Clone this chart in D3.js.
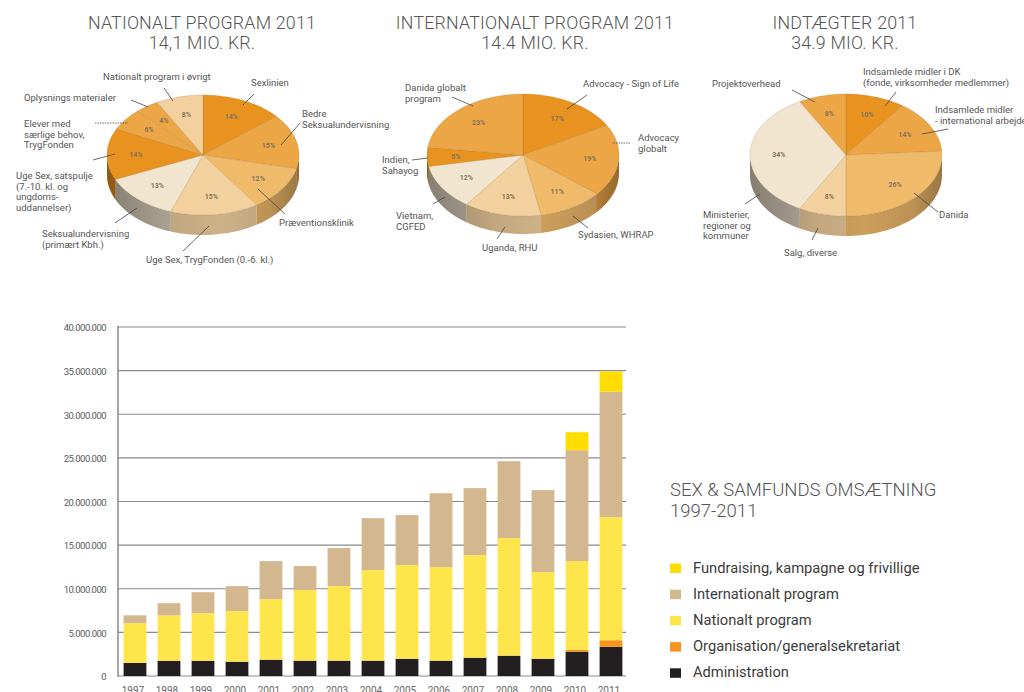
<!DOCTYPE html>
<html>
<head>
<meta charset="utf-8">
<script src="https://cdn.jsdelivr.net/npm/d3@7"></script>
<style>
  body { margin: 0; background: #fff; overflow: hidden; }
  svg { display: block; font-family: Roboto, "Open Sans", sans-serif; }
</style>
</head>
<body>
<svg id="chart" width="1024" height="692"></svg>
<script>
// ---- pie data (2011) ----
const natTitle = ["NATIONALT PROGRAM 2011", "14,1 MIO. KR."];
const natLabels = ["Sexlinien", "Bedre\nSeksualundervisning", "Præventionsklinik",
    "Uge Sex, TrygFonden (0.-6. kl.)", "Seksualundervisning\n(primært Kbh.)",
    "Uge Sex, satspulje\n(7.-10. kl. og\nungdoms-\nuddannelser)",
    "Elever med\nsærlige behov,\nTrygFonden", "Oplysnings materialer", "Nationalt program i øvrigt"];
const natValues = [14, 15, 12, 15, 13, 14, 6, 4, 8];

const intTitle = ["INTERNATIONALT PROGRAM 2011", "14.4 MIO. KR."];
const intLabels = ["Advocacy  - Sign of Life", "Advocacy\nglobalt", "Sydasien, WHRAP",
    "Uganda, RHU", "Vietnam,\nCGFED", "Indien,\nSahayog", "Danida globalt\nprogram"];
const intValues = [17, 19, 11, 13, 12, 5, 23];

const incTitle = ["INDTÆGTER 2011", "34.9 MIO. KR."];
const incLabels = ["Indsamlede midler i DK\n(fonde, virksomheder medlemmer)",
    "Indsamlede midler\n- international arbejde", "Danida", "Salg, diverse",
    "Ministerier,\nregioner og\nkommuner", "Projektoverhead"];
const incValues = [10, 14, 26, 8, 34, 8];

// ---- bar data (kr.) ----
const years = ["1997","1998","1999","2000","2001","2002","2003","2004","2005","2006","2007","2008","2009","2010","2011"];
const administration = [1.50e6, 1.75e6, 1.75e6, 1.64e6, 1.87e6, 1.76e6, 1.76e6, 1.76e6, 1.98e6, 1.76e6, 2.10e6, 2.33e6, 1.98e6, 2.79e6, 3.35e6];
const organisation   = [0, 0, 0, 0, 0, 0, 0, 0, 0, 0, 0, 0, 0, 0.19e6, 0.75e6];
const nationalt      = [4.55e6, 5.2e6, 5.45e6, 5.8e6, 6.95e6, 8.09e6, 8.54e6, 10.38e6, 10.73e6, 10.72e6, 11.75e6, 13.47e6, 9.93e6, 10.19e6, 14.1e6];
const internationalt = [0.9e6, 1.4e6, 2.4e6, 2.86e6, 4.35e6, 2.75e6, 4.36e6, 5.95e6, 5.73e6, 8.47e6, 7.68e6, 8.82e6, 9.39e6, 12.71e6, 14.4e6];
const fundraising    = [0, 0, 0, 0, 0, 0, 0, 0, 0, 0, 0, 0, 0, 2.06e6, 2.3e6];
const seriesNames = ["Administration", "Organisation/generalsekretariat", "Nationalt program",
    "Internationalt program", "Fundraising, kampagne og frivillige"];
const yTicks = [0, 5e6, 10e6, 15e6, 20e6, 25e6, 30e6, 35e6, 40e6];
const barTitle = ["SEX & SAMFUNDS OMSÆTNING", "1997-2011"];

// ---- styles ----
const shade = {dark: "#e8931f", mid: "#eca646", light: "#f0ba6b", pale: "#f2d19f", cream: "#f1e5cf"};
const natShades = ["dark", "mid", "light", "pale", "cream", "dark", "mid", "mid", "pale"];
const intShades = ["dark", "mid", "light", "pale", "cream", "dark", "mid"];
const incShades = ["dark", "mid", "light", "pale", "cream", "mid"];
const barColors = ["#231f20", "#f7941d", "#ffe54c", "#d3b78f", "#ffdd00"];

// callout layout: text pos [x, first baseline], leader [x1,y1,x2,y2], dotted?
const natCallouts = [
  {t: [251, 86], l: [254, 94, 243, 105]},
  {t: [302, 117], l: [300, 123, 281, 145]},
  {t: [279, 226], l: [285, 214, 258, 189]},
  {t: [146, 263], l: [183, 251, 209, 226]},
  {t: [42, 237], l: [115, 223, 137, 208]},
  {t: [16, 179], l: [93, 160, 115, 154]},
  {t: [24, 127], l: [95, 123, 128, 123], dot: true},
  {t: [24, 101], l: [131, 100, 148, 107]},
  {t: [103, 80], l: [164, 88, 173, 101]}
];
const intCallouts = [
  {t: [583, 87], l: [587, 95, 567, 109]},
  {t: [638, 141], l: [630, 143, 612, 143], dot: true},
  {t: [578, 238], l: [588, 228, 573, 216]},
  {t: [482, 251], l: [497, 239, 505, 227]},
  {t: [396, 219], l: [433, 204, 445, 197]},
  {t: [382, 163], l: [412, 160, 428, 158]},
  {t: [405, 91], l: [452, 97, 473, 106]}
];
const incCallouts = [
  {t: [863, 75], l: [896, 92, 885, 106]},
  {t: [935, 113], l: [948, 129, 922, 134]},
  {t: [939, 218], l: [938, 212, 914, 193]},
  {t: [784, 256], l: [812, 240, 818, 228]},
  {t: [703, 218], l: [745, 204, 760, 194]},
  {t: [712, 87], l: [792, 90, 815, 102]}
];

const svg = d3.select("#chart");
const defs = svg.append("defs");

const grad = defs.append("linearGradient").attr("id", "sideShade")
    .attr("x1", 0).attr("x2", 1).attr("y1", 0).attr("y2", 0);
[[0, 0.28], [0.35, 0.06], [0.6, 0.0], [0.85, 0.08], [1, 0.25]].forEach(s =>
  grad.append("stop").attr("offset", s[0]).attr("stop-color", "#000").attr("stop-opacity", s[1]));

defs.append("clipPath").attr("id", "clipInc")
  .append("rect").attr("x", 0).attr("y", 0).attr("width", 942).attr("height", 300);

const line = d3.line();

function drawTitle(lines, x) {
  svg.append("text")
      .attr("x", x).attr("y", 28.5)
      .attr("text-anchor", "middle")
      .attr("font-size", 17.8).attr("font-weight", 300).attr("fill", "#555")
      .attr("letter-spacing", 0.2)
      .selectAll("tspan").data(lines).join("tspan")
      .attr("x", x).attr("dy", (d, i) => i ? 20.5 : 0)
      .text(d => d);
}

function drawPie(cfg) {
  const g = svg.append("g");
  if (cfg.clip) g.attr("clip-path", "url(#" + cfg.clip + ")");
  const arcs = d3.pie().sort(null).value(d => d)(cfg.values);
  const pt = (a, k, dy) => [cfg.cx + k * cfg.rx * Math.sin(a), cfg.cy - k * cfg.ry * Math.cos(a) + dy];
  const sample = (a0, a1, dy) => d3.range(41).map(i => pt(a0 + (a1 - a0) * i / 40, 1, dy));

  // side walls (front half only)
  arcs.forEach((d, i) => {
    const s = Math.max(d.startAngle, Math.PI / 2), e = Math.min(d.endAngle, 3 * Math.PI / 2);
    if (s >= e) return;
    const c = d3.color(shade[cfg.shades[i]]).darker(cfg.shades[i] == "cream" ? 0.75 : 0.45);
    g.append("path")
        .attr("d", line(sample(s, e, 0).concat(sample(e, s, cfg.depth))) + "Z")
        .attr("fill", c);
  });
  g.append("path")
      .attr("d", line(sample(Math.PI / 2, 3 * Math.PI / 2, 0)
          .concat(sample(3 * Math.PI / 2, Math.PI / 2, cfg.depth))) + "Z")
      .attr("fill", "url(#sideShade)");

  // top faces
  arcs.forEach((d, i) => {
    g.append("path")
        .attr("d", line([[cfg.cx, cfg.cy]].concat(sample(d.startAngle, d.endAngle, 0))) + "Z")
        .attr("fill", shade[cfg.shades[i]])
        .attr("stroke", "rgba(140,95,40,0.3)")
        .attr("stroke-width", 0.6);
  });

  // percentages
  g.selectAll("text.pct").data(arcs).join("text")
      .attr("class", "pct")
      .attr("x", d => pt((d.startAngle + d.endAngle) / 2, 0.7, 0)[0])
      .attr("y", d => pt((d.startAngle + d.endAngle) / 2, 0.7, 0)[1])
      .attr("dy", "0.35em")
      .attr("text-anchor", "middle")
      .attr("font-size", 7).attr("font-weight", 700)
      .attr("fill", "#85725a")
      .text(d => d.data + "%");

  // callouts
  cfg.callouts.forEach((c, i) => {
    svg.append("line")
        .attr("x1", c.l[0]).attr("y1", c.l[1]).attr("x2", c.l[2]).attr("y2", c.l[3])
        .attr("stroke", "#444").attr("stroke-width", 0.8)
        .attr("stroke-dasharray", c.dot ? "1.5,1" : null);
    svg.append("text")
        .attr("x", c.t[0]).attr("y", c.t[1])
        .attr("font-size", 9.5).attr("fill", "#555")
        .selectAll("tspan").data(cfg.labels[i].split("\n")).join("tspan")
        .attr("x", c.t[0]).attr("dy", (d, j) => j ? 10.7 : 0)
        .text(d => d);
  });
}

drawTitle(natTitle, 202);
drawTitle(intTitle, 535);
drawTitle(incTitle, 845);

drawPie({values: natValues, labels: natLabels, shades: natShades, callouts: natCallouts,
         cx: 203, cy: 155, rx: 96, ry: 60, depth: 20});
drawPie({values: intValues, labels: intLabels, shades: intShades, callouts: intCallouts,
         cx: 523, cy: 155, rx: 96, ry: 61, depth: 18});
drawPie({values: incValues, labels: incLabels, shades: incShades, callouts: incCallouts,
         cx: 846, cy: 155, rx: 96, ry: 61, depth: 20, clip: "clipInc"});

// ---- stacked bars ----
const rows = years.map((y, i) => ({
  year: y, s0: administration[i], s1: organisation[i], s2: nationalt[i],
  s3: internationalt[i], s4: fundraising[i]
}));
const keys = ["s0", "s1", "s2", "s3", "s4"];
const stacked = d3.stack().keys(keys)(rows);

const x = d3.scaleBand().domain(years).range([118, 628]).paddingInner(0.33).paddingOuter(0.165);
const y = d3.scaleLinear().domain([0, 40e6]).range([676, 327]);
const fmt = d3.formatLocale({decimal: ",", thousands: ".", grouping: [3], currency: ["", ""]}).format(",d");

const grid = svg.append("g");
grid.selectAll("line").data(yTicks).join("line")
    .attr("x1", 118).attr("x2", 626)
    .attr("y1", d => y(d)).attr("y2", d => y(d))
    .attr("stroke", "#8a8a8a").attr("stroke-width", 1.2);
grid.selectAll("text").data(yTicks).join("text")
    .attr("x", 106).attr("y", d => y(d) + 1)
    .attr("dy", "0.35em").attr("text-anchor", "end")
    .attr("font-size", 9.5).attr("letter-spacing", -0.55).attr("fill", "#5a5a5a")
    .text(d => fmt(d));
svg.append("line").attr("x1", 118).attr("x2", 118).attr("y1", y(40e6) - 1).attr("y2", y(0) + 1)
    .attr("stroke", "#8a8a8a").attr("stroke-width", 1.5);

svg.append("g").selectAll("g").data(stacked).join("g")
    .attr("fill", (d, i) => barColors[i])
    .selectAll("rect").data(d => d).join("rect")
    .attr("x", d => x(d.data.year))
    .attr("width", x.bandwidth())
    .attr("y", d => y(d[1]))
    .attr("height", d => y(d[0]) - y(d[1]));

svg.append("g").selectAll("text").data(years).join("text")
    .attr("x", d => x(d) + x.bandwidth() / 2 - 2)
    .attr("y", 694)
    .attr("text-anchor", "middle")
    .attr("font-size", 10).attr("fill", "#666")
    .text(d => d);

// ---- title + legend ----
svg.append("text")
    .attr("x", 670).attr("y", 496)
    .attr("font-size", 18.5).attr("font-weight", 300).attr("fill", "#555")
    .selectAll("tspan").data(barTitle).join("tspan")
    .attr("x", 670).attr("dy", (d, i) => i ? 20.5 : 0)
    .text(d => d);

const legendOrder = [4, 3, 2, 1, 0];
const leg = svg.append("g").selectAll("g").data(legendOrder).join("g")
    .attr("transform", (d, i) => `translate(670, ${572.5 + i * 26.2})`);
leg.append("rect").attr("x", 0).attr("y", -9).attr("width", 11).attr("height", 9.5)
    .attr("fill", d => barColors[d]);
leg.append("text").attr("x", 23).attr("y", 0)
    .attr("font-size", 14.7).attr("fill", "#3c3c3c")
    .text(d => seriesNames[d]);
</script>
</body>
</html>
